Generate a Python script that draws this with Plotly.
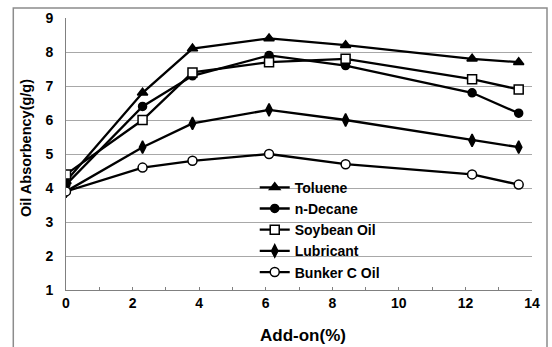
import plotly.graph_objects as go

add_on = [0, 2.3, 3.8, 6.1, 8.4, 12.2, 13.6]
toluene = [4.2, 6.8, 8.1, 8.4, 8.2, 7.8, 7.7]
n_decane = [4.1, 6.4, 7.3, 7.9, 7.6, 6.8, 6.2]
soybean = [4.4, 6.0, 7.4, 7.7, 7.8, 7.2, 6.9]
lubricant = [3.9, 5.2, 5.9, 6.3, 6.0, 5.4, 5.2]
bunker = [3.9, 4.6, 4.8, 5.0, 4.7, 4.4, 4.1]

series = [
    ("Toluene", toluene, "triangle-up", "black", 9),
    ("n-Decane", n_decane, "circle", "black", 8),
    ("Soybean Oil", soybean, "square", "white", 9),
    ("Lubricant", lubricant, "diamond-tall", "black", 9),
    ("Bunker C Oil", bunker, "circle", "white", 9),
]

fig = go.Figure()
for i, (name, vals, sym, fill, size) in enumerate(series):
    fig.add_trace(go.Scatter(
        x=add_on, y=vals, name=name, mode="lines+markers",
        line=dict(color="black", width=2.3),
        marker=dict(symbol=sym, color=fill, size=size,
                    line=dict(color="black", width=1.5)),
        legendgroup=f"g{i}",
    ))

font_family = "Liberation Sans, Arial, sans-serif"
pw, ph = 466, 272
fig.update_layout(
    width=552, height=347,
    margin=dict(l=66, r=20, t=18, b=57),
    paper_bgcolor="white", plot_bgcolor="white",
    font=dict(family=font_family, color="black", size=13),
    showlegend=True,
    legend=dict(x=0.405, y=0.435, xanchor="left", yanchor="top",
                bgcolor="rgba(0,0,0,0)", tracegroupgap=0,
                font=dict(size=14, family=font_family, weight="bold")),
    xaxis=dict(range=[0, 14], dtick=2, showgrid=False, zeroline=False,
               showline=True, linecolor="#808080", linewidth=1,
               ticks="inside", ticklen=3, tickcolor="#808080",
               minor=dict(dtick=1, ticks="inside", ticklen=3, tickcolor="#808080"),
               tickfont=dict(size=14, weight="bold"),
               automargin=False),
    yaxis=dict(range=[1, 9], dtick=1, showgrid=True, gridcolor="#a8a8a8", gridwidth=1,
               zeroline=False, showline=True, linecolor="#808080", linewidth=1,
               ticks="", ticklabelstandoff=9, automargin=False,
               tickfont=dict(size=14, weight="bold")),
    annotations=[
        dict(text="Add-on(%)", xref="paper", yref="paper",
             x=(303 - 66) / pw, y=(290 - 335) / ph, xanchor="center", yanchor="middle",
             showarrow=False, font=dict(size=17, weight="bold")),
        dict(text="Oil Absorbency(g/g)", xref="paper", yref="paper", textangle=-90,
             x=(26 - 66) / pw, y=(290 - 148) / ph, xanchor="center", yanchor="middle",
             showarrow=False, font=dict(size=14.5, weight="bold")),
    ],
    shapes=[dict(type="rect", xref="paper", yref="paper",
                 x0=-52.7/466, x1=(547-66)/466, y0=-120/272, y1=(290-8)/272,
                 line=dict(color="#8c8c8c", width=1.5))],
)

fig.write_html("out.html")
